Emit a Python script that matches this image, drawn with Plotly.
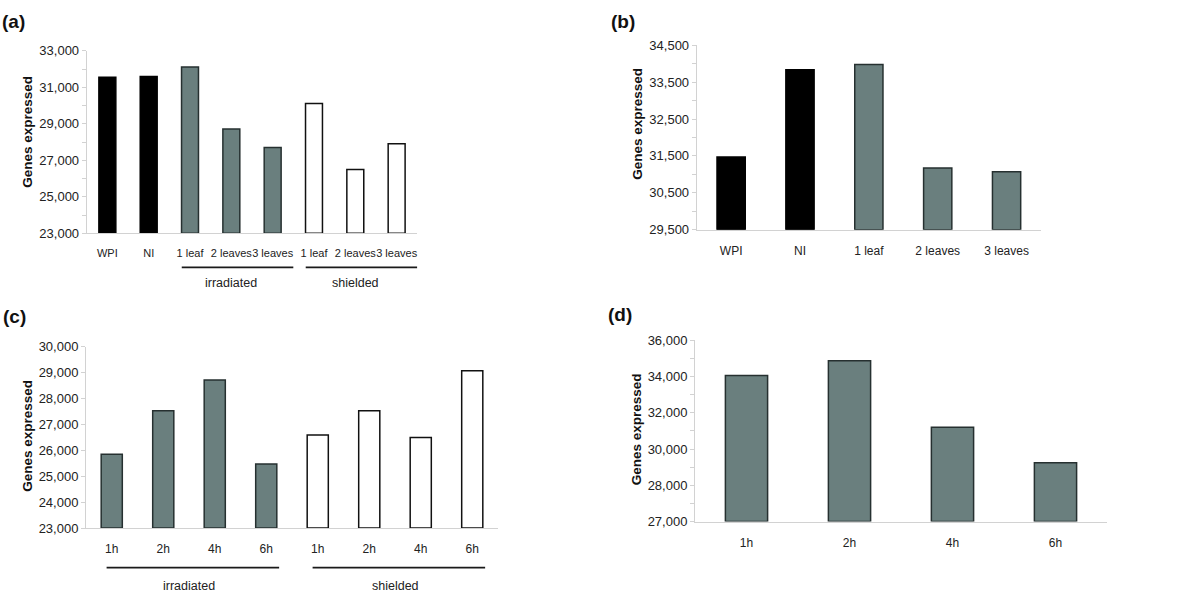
import plotly.graph_objects as go

# ---------------- data ----------------
a_labels = ["WPI", "NI", "1 leaf", "2 leaves", "3 leaves", "1 leaf", "2 leaves", "3 leaves"]
a_values = [31550, 31590, 32120, 28710, 27700, 30120, 26500, 27910]
a_kind = ["control", "control", "irr", "irr", "irr", "sh", "sh", "sh"]
a_groups = [("irradiated", 2, 4), ("shielded", 5, 7)]

b_labels = ["WPI", "NI", "1 leaf", "2 leaves", "3 leaves"]
b_values = [31470, 33840, 33980, 31170, 31070]
b_kind = ["control", "control", "irr", "irr", "irr"]

c_labels = ["1h", "2h", "4h", "6h", "1h", "2h", "4h", "6h"]
c_values = [25850, 27530, 28710, 25470, 26590, 27530, 26490, 29070]
c_kind = ["irr", "irr", "irr", "irr", "sh", "sh", "sh", "sh"]
c_groups = [("irradiated", 0, 3), ("shielded", 4, 7)]

d_labels = ["1h", "2h", "4h", "6h"]
d_values = [34050, 34870, 31200, 29240]
d_kind = ["irr", "irr", "irr", "irr"]

a_ticks = [23000, 25000, 27000, 29000, 31000, 33000]
b_ticks = [29500, 30500, 31500, 32500, 33500, 34500]
c_ticks = [23000, 24000, 25000, 26000, 27000, 28000, 29000, 30000]
d_ticks = [26000, 28000, 30000, 32000, 34000, 36000]
d_ticklabels = ["27,000", "28,000", "30,000", "32,000", "34,000", "36,000"]

# ---------------- style ----------------
FILL = {"control": "#000000", "irr": "#6a7f7e", "sh": "#ffffff"}
LINE = {"control": "#000000", "irr": "#263030", "sh": "#111111"}
TXT = "#222222"
AX = "#d2d2d2"
FONT = "Liberation Sans, Arial, sans-serif"

fig = go.Figure()

panels = [
    ("a", a_labels, a_values, a_kind, a_ticks, None, 1000, 11,
     [86.7 / 1200, 417.3 / 1200], [1 - 232 / 604, 1 - 45 / 604], [23000, 33000]),
    ("b", b_labels, b_values, b_kind, b_ticks, None, 500, 12,
     [696.7 / 1200, 1041 / 1200], [1 - 228.3 / 604, 1 - 39.3 / 604], [29500, 34500]),
    ("c", c_labels, c_values, c_kind, c_ticks, None, None, 12,
     [86 / 1200, 498 / 1200], [1 - 534.3 / 604, 1 - 348.3 / 604], [23000, 30000]),
    ("d", d_labels, d_values, d_kind, d_ticks, d_ticklabels, 1000, 12,
     [695 / 1200, 1107 / 1200], [1 - 527.7 / 604, 1 - 341.7 / 604], [26000, 36000]),
]

layout_axes = {}
for i, (name, labels, values, kind, ticks, ticktext, minor, xfs, xd, yd, yr) in enumerate(panels):
    n = i + 1
    xa = "x" if n == 1 else f"x{n}"
    ya = "y" if n == 1 else f"y{n}"
    xs = list(range(len(labels)))
    fig.add_trace(go.Bar(
        x=xs, y=[v - yr[0] for v in values], base=yr[0],
        width=0.41,
        marker=dict(color=[FILL[k] for k in kind],
                    line=dict(color=[LINE[k] for k in kind], width=1.5)),
        xaxis=xa, yaxis=ya, showlegend=False, hoverinfo="skip",
    ))
    xkey = "xaxis" if n == 1 else f"xaxis{n}"
    ykey = "yaxis" if n == 1 else f"yaxis{n}"
    layout_axes[xkey] = dict(
        domain=xd, anchor=ya, range=[-0.5, len(labels) - 0.5],
        tickvals=xs, ticktext=labels, ticks="", showgrid=False, tickangle=0,
        showline=True, linecolor=AX, linewidth=1, zeroline=False,
        tickfont=dict(size=xfs, color=TXT, family=FONT),
        ticklabelstandoff=10, fixedrange=True,
    )
    yax = dict(
        domain=yd, anchor=xa, range=yr, tickvals=ticks,
        tickformat=",d", ticks="outside", ticklen=4, tickcolor=AX,
        showgrid=False, showline=True, linecolor=AX, linewidth=1,
        zeroline=False, tickfont=dict(size=13, color=TXT, family=FONT),
        fixedrange=True,
    )
    if ticktext is not None:
        yax["ticktext"] = ticktext
    if minor:
        yax["minor"] = dict(dtick=minor, tick0=yr[0], ticks="outside", ticklen=4,
                            tickcolor=AX, showgrid=False)
    layout_axes[ykey] = yax

fig.update_layout(**layout_axes)

annotations = []
for txt, x, y in [("(a)", 0 / 1200, 1 - 15 / 604), ("(b)", 609 / 1200, 1 - 15 / 604),
                  ("(c)", 1 / 1200, 1 - 317 / 604), ("(d)", 606 / 1200, 1 - 315 / 604)]:
    annotations.append(dict(text="<b>%s</b>" % txt, x=x, y=y, xref="paper", yref="paper",
                            xanchor="left", yanchor="middle", showarrow=False,
                            font=dict(size=19, color="#111111", family=FONT)))
for x, y in [(28 / 1200, 1 - 128 / 604), (636.7 / 1200, 1 - 120 / 604),
             (26.7 / 1200, 1 - 440 / 604), (636 / 1200, 1 - 433 / 604)]:
    annotations.append(dict(text="<b>Genes expressed</b>", x=x, y=y, xref="paper", yref="paper",
                            xanchor="center", yanchor="middle", textangle=-90, showarrow=False,
                            font=dict(size=13.5, color="#111111", family=FONT)))

shapes = []
for groups, xref, line_y, text_y, pad_l, pad_r in [
    (a_groups, "x", 1 - 267 / 604, 1 - 283 / 604, 0.2, 0.5),
    (c_groups, "x3", 1 - 575 / 604, 1 - 594 / 604, 0.1, 0.25),
]:
    for name, first, last in groups:
        shapes.append(dict(type="line", xref=xref, yref="paper",
                           x0=first - pad_l, x1=last + pad_r, y0=line_y, y1=line_y,
                           line=dict(color="#1a1a1a", width=1.8)))
        annotations.append(dict(text=name, x=(first + last) / 2, y=text_y, xref=xref,
                                yref="paper", xanchor="center", yanchor="middle",
                                showarrow=False,
                                font=dict(size=12.5, color=TXT, family=FONT)))

fig.update_layout(
    width=1200, height=604,
    margin=dict(l=0, r=0, t=0, b=0),
    paper_bgcolor="white", plot_bgcolor="white",
    annotations=annotations, shapes=shapes,
    font=dict(family=FONT, color=TXT),
)

fig.write_html("out.html", config={"displayModeBar": False},
               post_script="document.body.style.margin='0';document.body.style.overflow='hidden';")
